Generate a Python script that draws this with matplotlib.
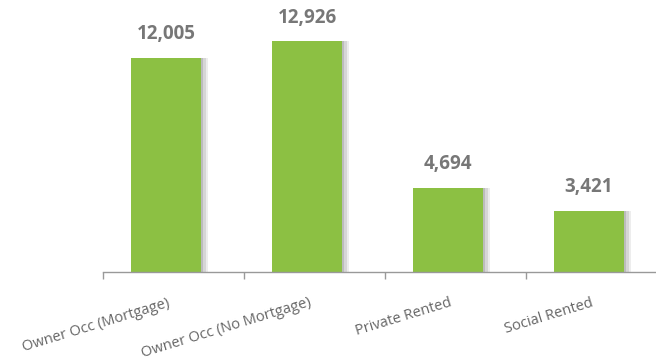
import matplotlib.pyplot as plt
import numpy as np

categories = ["Owner Occ (Mortgage)", "Owner Occ (No Mortgage)", "Private Rented", "Social Rented"]
values = [12005, 12926, 4694, 3421]
value_labels = ["12,005", "12,926", "4,694", "3,421"]

green = "#8cc043"
grey_text = "#777777"

fig = plt.figure(figsize=(6.56, 3.6), dpi=100)
ax = fig.add_axes([0.157, 0.245, 0.843, 0.755])

x = np.arange(len(categories))

# soft shadow to the right of each bar
for dx, a in [(0.045, 0.10), (0.03, 0.15), (0.015, 0.2)]:
    ax.bar(x + dx, values, width=0.5, color="#555555", alpha=a, zorder=1, linewidth=0)
ax.bar(x, values, width=0.5, color=green, zorder=2, linewidth=0)

for xi, v, lab in zip(x, values, value_labels):
    ax.annotate(lab, (xi, v), xytext=(0, 10), textcoords="offset points",
                ha="center", va="bottom", fontsize=13.5, fontweight="bold",
                color=grey_text, family="Open Sans")

ax.set_xlim(-0.447, 3.475)
ax.set_ylim(0, 15250)

# tick marks at category boundaries, labels at category centres
ax.set_xticks(x - 0.447, minor=True)
ax.set_xticks(x + 0.01)
ax.set_xticklabels(categories, rotation=17, ha="right", rotation_mode="anchor",
                   fontsize=10.5, color="#666666", family="Open Sans")
ax.tick_params(axis="x", which="major", length=0, pad=17)
ax.tick_params(axis="x", which="minor", length=5, color="#999999", width=1, direction="out")
ax.set_yticks([])

for side in ["top", "right", "left"]:
    ax.spines[side].set_visible(False)
ax.spines["bottom"].set_color("#999999")
ax.spines["bottom"].set_linewidth(1)

fig.savefig("out.png", dpi=100)
